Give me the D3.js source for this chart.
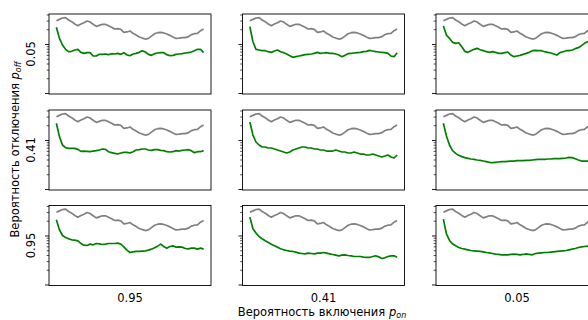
<!DOCTYPE html>
<html lang="ru">
<head>
<meta charset="UTF-8">
<title>p_off / p_on</title>
<script src="https://cdn.jsdelivr.net/npm/d3@7"></script>
<style>
    body { margin: 0; background: #fff; }
    svg { display: block; font-family: "DejaVu Sans", sans-serif; }
</style>
</head>
<body>
<div id="chart"></div>
<script>
// rows = p_off, columns = p_on
var offLabels = ['0.05', '0.41', '0.95'];
var onLabels = ['0.95', '0.41', '0.05'];

// gray reference curve (same in every panel)
var grayRef = [0.299,0.318,0.339,0.344,0.308,0.285,0.256,0.236,0.256,0.272,0.294,0.281,0.252,0.229,0.240,0.252,0.252,0.236,0.219,0.202,0.205,0.199,0.173,0.176,0.184,0.165,0.152,0.139,0.132,0.126,0.130,0.145,0.162,0.170,0.173,0.168,0.160,0.150,0.139,0.130,0.132,0.135,0.135,0.141,0.155,0.162,0.165,0.187,0.202];

// green curves, one per panel
var off005_on095 = [0.219,0.130,0.0953,0.0778,0.0696,0.0708,0.0753,0.0778,0.0675,0.0644,0.0665,0.0665,0.0568,0.0568,0.0614,0.0614,0.0624,0.0605,0.0634,0.0624,0.0644,0.0614,0.0665,0.0595,0.0577,0.0624,0.0644,0.0675,0.0730,0.0686,0.0614,0.0586,0.0634,0.0654,0.0665,0.0665,0.0605,0.0577,0.0586,0.0614,0.0624,0.0634,0.0654,0.0665,0.0686,0.0730,0.0778,0.0778,0.0665];
var off005_on041 = [0.226,0.111,0.0778,0.0753,0.0730,0.0730,0.0696,0.0675,0.0719,0.0753,0.0696,0.0665,0.0624,0.0577,0.0534,0.0551,0.0568,0.0586,0.0605,0.0614,0.0624,0.0644,0.0675,0.0644,0.0654,0.0665,0.0644,0.0644,0.0624,0.0595,0.0551,0.0586,0.0634,0.0644,0.0654,0.0665,0.0675,0.0696,0.0708,0.0742,0.0719,0.0696,0.0686,0.0675,0.0665,0.0644,0.0568,0.0551,0.0665];
var off005_on005 = [0.233,0.152,0.130,0.108,0.103,0.106,0.0881,0.0708,0.0675,0.0730,0.0778,0.0815,0.0765,0.0730,0.0696,0.0675,0.0696,0.0675,0.0644,0.0644,0.0665,0.0686,0.0595,0.0551,0.0568,0.0586,0.0614,0.0644,0.0675,0.0730,0.0742,0.0730,0.0730,0.0696,0.0675,0.0654,0.0624,0.0595,0.0665,0.0696,0.0730,0.0730,0.0753,0.0802,0.0841,0.0924,0.103,0.111,0.117];
var off041_on095 = [0.219,0.117,0.0790,0.0696,0.0675,0.0675,0.0675,0.0644,0.0586,0.0595,0.0586,0.0577,0.0595,0.0605,0.0624,0.0654,0.0644,0.0577,0.0551,0.0534,0.0517,0.0542,0.0560,0.0560,0.0542,0.0577,0.0624,0.0634,0.0654,0.0654,0.0624,0.0614,0.0634,0.0634,0.0614,0.0605,0.0577,0.0568,0.0577,0.0605,0.0595,0.0614,0.0624,0.0634,0.0605,0.0551,0.0577,0.0577,0.0605];
var off041_on041 = [0.233,0.126,0.0909,0.0790,0.0720,0.0720,0.0686,0.0686,0.0654,0.0624,0.0595,0.0568,0.0542,0.0568,0.0624,0.0654,0.0686,0.0720,0.0720,0.0686,0.0686,0.0654,0.0654,0.0624,0.0624,0.0595,0.0595,0.0595,0.0624,0.0595,0.0568,0.0568,0.0542,0.0542,0.0568,0.0542,0.0517,0.0517,0.0494,0.0494,0.0517,0.0494,0.0472,0.0450,0.0472,0.0494,0.0450,0.0429,0.0494];
var off041_on005 = [0.219,0.121,0.0790,0.0605,0.0534,0.0486,0.0457,0.0436,0.0422,0.0409,0.0403,0.0390,0.0384,0.0372,0.0361,0.0350,0.0344,0.0350,0.0355,0.0361,0.0361,0.0366,0.0372,0.0372,0.0378,0.0378,0.0378,0.0384,0.0384,0.0390,0.0396,0.0403,0.0403,0.0403,0.0409,0.0409,0.0415,0.0415,0.0415,0.0422,0.0429,0.0442,0.0436,0.0415,0.0390,0.0372,0.0372,0.0372,0.0378];
var off095_on095 = [0.209,0.131,0.100,0.0911,0.0855,0.0816,0.0803,0.0779,0.0687,0.0635,0.0625,0.0666,0.0645,0.0687,0.0676,0.0655,0.0666,0.0687,0.0687,0.0687,0.0698,0.0666,0.0587,0.0502,0.0450,0.0464,0.0472,0.0472,0.0479,0.0487,0.0502,0.0526,0.0560,0.0606,0.0666,0.0596,0.0552,0.0596,0.0616,0.0578,0.0587,0.0578,0.0543,0.0535,0.0552,0.0552,0.0526,0.0552,0.0526];
var off095_on041 = [0.237,0.137,0.112,0.0954,0.0855,0.0779,0.0720,0.0666,0.0616,0.0578,0.0535,0.0510,0.0494,0.0479,0.0472,0.0457,0.0436,0.0429,0.0423,0.0436,0.0429,0.0423,0.0436,0.0436,0.0450,0.0436,0.0423,0.0410,0.0397,0.0385,0.0397,0.0403,0.0391,0.0385,0.0373,0.0373,0.0373,0.0361,0.0356,0.0356,0.0373,0.0385,0.0367,0.0339,0.0350,0.0373,0.0385,0.0385,0.0361];
var off095_on005 = [0.216,0.108,0.0791,0.0676,0.0616,0.0569,0.0543,0.0526,0.0510,0.0494,0.0487,0.0479,0.0472,0.0464,0.0450,0.0443,0.0429,0.0416,0.0410,0.0403,0.0403,0.0403,0.0410,0.0416,0.0410,0.0403,0.0410,0.0423,0.0410,0.0403,0.0429,0.0436,0.0443,0.0450,0.0450,0.0457,0.0464,0.0472,0.0479,0.0487,0.0494,0.0510,0.0526,0.0543,0.0569,0.0587,0.0596,0.0606,0.0616];

var greens = [
    [off005_on095, off005_on041, off005_on005],
    [off041_on095, off041_on041, off041_on005],
    [off095_on095, off095_on041, off095_on005]
];

var w = 588, h = 320;
var colX = [49, 242.5, 436];
var rowY = [14, 110, 205.5];
var pw = 162, ph = 80;

var n = grayRef.length - 1;
var pad = n * 0.05;
var x = d3.scaleLinear().domain([-pad, n + pad]).range([0, pw]);
var y = d3.scaleLog().domain([0.00954, 0.409]).range([ph, 0]);

var allTicks = y.ticks();
var majorTicks = allTicks.filter(function(v){
    var l = Math.log10(v);
    return Math.abs(l - Math.round(l)) < 1e-9;
});
var minorTicks = allTicks.filter(function(v){ return majorTicks.indexOf(v) < 0; });

var line = d3.line()
    .x(function(d, i){ return x(i); })
    .y(function(d){ return y(d); });

var svg = d3.select('#chart').append('svg')
    .attr('width', w)
    .attr('height', h);

svg.append('rect').attr('width', w).attr('height', h).attr('fill', '#fff');

greens.forEach(function(row, r){
    row.forEach(function(series, c){
        var g = svg.append('g')
            .attr('transform', 'translate(' + colX[c] + ',' + rowY[r] + ')');

        g.append('g')
            .call(d3.axisLeft(y).tickValues(minorTicks).tickSize(2.3).tickFormat(''))
            .call(function(a){ a.select('.domain').remove(); })
            .selectAll('line').attr('stroke', '#000').attr('stroke-width', 0.7);
        g.append('g')
            .call(d3.axisLeft(y).tickValues(majorTicks).tickSize(4).tickFormat(''))
            .call(function(a){ a.select('.domain').remove(); })
            .selectAll('line').attr('stroke', '#000').attr('stroke-width', 0.9);

        g.append('path')
            .datum(grayRef)
            .attr('d', line)
            .attr('fill', 'none')
            .attr('stroke', 'gray')
            .attr('stroke-width', 1.7)
            .attr('stroke-linejoin', 'round');

        g.append('path')
            .datum(series)
            .attr('d', line)
            .attr('fill', 'none')
            .attr('stroke', 'green')
            .attr('stroke-width', 1.7)
            .attr('stroke-linejoin', 'round');

        g.append('rect')
            .attr('width', pw)
            .attr('height', ph)
            .attr('fill', 'none')
            .attr('stroke', '#000')
            .attr('stroke-width', 0.9);

        if (c === 0) {
            g.append('text')
                .attr('transform', 'translate(-14,' + (ph / 2) + ') rotate(-90)')
                .attr('text-anchor', 'middle')
                .attr('font-size', '11.5px')
                .attr('fill', '#000')
                .text(offLabels[r]);
        }
        if (r === 2) {
            g.append('text')
                .attr('x', pw / 2)
                .attr('y', ph + 16)
                .attr('text-anchor', 'middle')
                .attr('font-size', '11.5px')
                .attr('fill', '#000')
                .text(onLabels[c]);
        }
    });
});

// overall axis titles
var yTitle = svg.append('text')
    .attr('transform', 'translate(18.5,149.5) rotate(-90)')
    .attr('text-anchor', 'middle')
    .attr('font-size', '11.5px')
    .attr('fill', '#000');
yTitle.append('tspan').text('Вероятность отключения ');
yTitle.append('tspan').attr('font-style', 'italic').text('p');
yTitle.append('tspan').attr('font-style', 'italic').attr('font-size', '8px').attr('dy', 2.5).text('off');

var xTitle = svg.append('text')
    .attr('x', 322)
    .attr('y', 315.5)
    .attr('text-anchor', 'middle')
    .attr('font-size', '11.5px')
    .attr('fill', '#000');
xTitle.append('tspan').text('Вероятность включения ');
xTitle.append('tspan').attr('font-style', 'italic').text('p');
xTitle.append('tspan').attr('font-style', 'italic').attr('font-size', '8px').attr('dy', 2.5).text('on');
</script>
</body>
</html>
